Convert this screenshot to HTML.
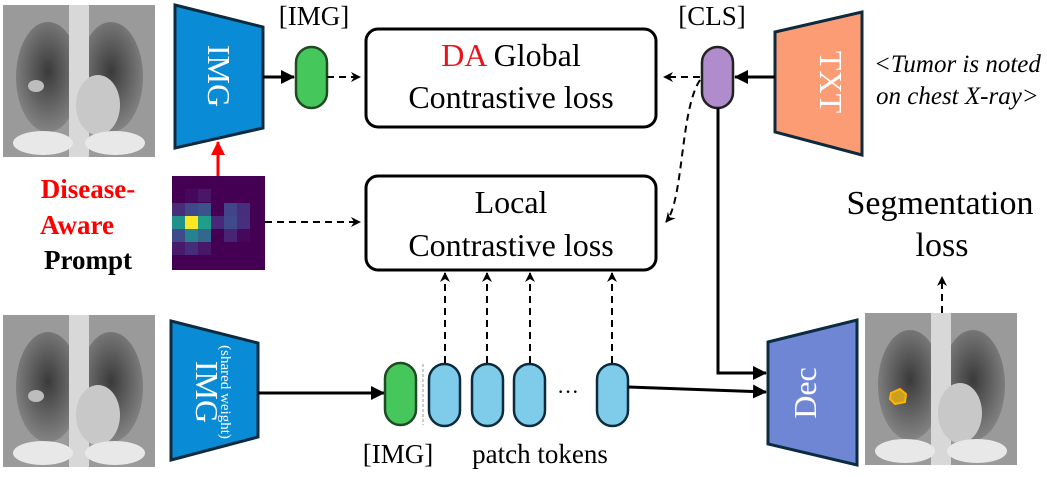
<!DOCTYPE html>
<html><head><meta charset="utf-8"><style>
html,body{margin:0;padding:0;background:#fff;}
svg text{font-family:"Liberation Serif","DejaVu Serif","Noto Serif CJK SC",serif;}
</style></head><body>
<svg width="1047" height="472" viewBox="0 0 1047 472" xmlns="http://www.w3.org/2000/svg">
<defs>
<marker id="ab" markerWidth="14" markerHeight="14" refX="13" refY="7" orient="auto" markerUnits="userSpaceOnUse"><path d="M0,0 L14,7 L0,14 Z" fill="#000"/></marker>
<marker id="ao" markerWidth="10" markerHeight="10" refX="9" refY="5" orient="auto" markerUnits="userSpaceOnUse"><path d="M0,0 L10,5 L0,10 L3,5 Z" fill="#000"/></marker>
<marker id="ar" markerWidth="14" markerHeight="14" refX="13" refY="7" orient="auto" markerUnits="userSpaceOnUse"><path d="M0,0 L14,7 L0,14 Z" fill="#f00"/></marker>
<radialGradient id="lung" cx="0.5" cy="0.45" r="0.6"><stop offset="0" stop-color="#3a3a3a"/><stop offset="1" stop-color="#8a8a8a"/></radialGradient>
<g id="xray">
<rect width="152" height="152" fill="#9a9a9a"/>
<ellipse cx="45" cy="72" rx="32" ry="55" fill="url(#lung)"/>
<ellipse cx="108" cy="72" rx="32" ry="55" fill="url(#lung)"/>
<rect x="66" y="0" width="20" height="152" fill="#d8d8d8"/>
<ellipse cx="95" cy="100" rx="22" ry="30" fill="#c8c8c8"/>
<ellipse cx="40" cy="138" rx="30" ry="12" fill="#e8e8e8"/>
<ellipse cx="112" cy="138" rx="30" ry="12" fill="#e8e8e8"/>
</g>
</defs>

<use href="#xray" x="3" y="5"/>
<ellipse cx="36" cy="86" rx="8" ry="6" fill="#bdbdbd"/>
<use href="#xray" x="3" y="315"/>
<ellipse cx="36" cy="396" rx="8" ry="6" fill="#bdbdbd"/>
<use href="#xray" x="865" y="313"/>
<path d="M891,393 L900,389 L906,394 L905,402 L895,404 L890,399 Z" fill="#c9a020" stroke="#ffb400" stroke-width="2"/>

<polygon points="175,5 263,27 263,128 175,148" fill="#0a8bd6" stroke="#0d2b3e" stroke-width="3"/>
<text transform="translate(208,76) rotate(90)" text-anchor="middle" font-size="32" fill="#fff">IMG</text>
<line x1="263" y1="77" x2="294" y2="77" stroke="#000" stroke-width="3" marker-end="url(#ab)"/>
<rect x="296" y="47" width="31" height="61" rx="15.5" fill="#45c75c" stroke="#1f4a22" stroke-width="2.5"/>
<text x="314" y="25" text-anchor="middle" font-size="27">[IMG]</text>
<line x1="327" y1="77" x2="360" y2="77" stroke="#000" stroke-width="2" stroke-dasharray="7,5" marker-end="url(#ao)"/>

<rect x="366" y="29" width="290" height="98" rx="12" fill="#fff" stroke="#000" stroke-width="3"/>
<text x="511" y="66" text-anchor="middle" font-size="32"><tspan fill="#e8141b">DA</tspan> Global</text>
<text x="511" y="108" text-anchor="middle" font-size="32">Contrastive loss</text>

<text x="712" y="25" text-anchor="middle" font-size="27">[CLS]</text>
<rect x="702" y="47" width="31" height="61" rx="15.5" fill="#b18ccc" stroke="#222" stroke-width="2.5"/>
<polygon points="775,32 862,12 862,155 775,132" fill="#fc9c74" stroke="#0d2b3e" stroke-width="3"/>
<text transform="translate(820,82) rotate(90)" text-anchor="middle" font-size="32" fill="#fff">TXT</text>
<line x1="775" y1="77" x2="735" y2="77" stroke="#000" stroke-width="3" marker-end="url(#ab)"/>
<line x1="700" y1="77" x2="664" y2="77" stroke="#000" stroke-width="2" stroke-dasharray="7,5" marker-end="url(#ao)"/>
<text x="874" y="72" font-size="25" font-style="italic">&lt;Tumor is noted</text>
<text x="876" y="104" font-size="25" font-style="italic">on chest X-ray&gt;</text>
<path d="M700,80 C680,110 684,200 666,222" fill="none" stroke="#000" stroke-width="2" stroke-dasharray="7,5" marker-end="url(#ao)"/>
<polyline points="718,108 718,373 766,373" fill="none" stroke="#000" stroke-width="3" marker-end="url(#ab)"/>

<text x="88" y="198" text-anchor="middle" font-size="27" font-weight="bold" fill="#f00">Disease-</text>
<text x="77" y="234" text-anchor="middle" font-size="27" font-weight="bold" fill="#f00">Aware</text>
<text x="88" y="269" text-anchor="middle" font-size="27" font-weight="bold">Prompt</text>
<g transform="translate(172,176)">
<rect width="93" height="94" fill="#440154"/>
<rect x="13" y="13" width="13" height="13" fill="#46085c"/>
<rect x="26" y="13" width="13" height="13" fill="#481769"/>
<rect x="0" y="27" width="13" height="13" fill="#472c7a"/>
<rect x="13" y="27" width="13" height="13" fill="#3e4989"/>
<rect x="26" y="27" width="13" height="13" fill="#3b528b"/>
<rect x="52" y="27" width="13" height="13" fill="#414487"/>
<rect x="65" y="27" width="13" height="13" fill="#472d7b"/>
<rect x="0" y="40" width="13" height="13" fill="#21918c"/>
<rect x="13" y="40" width="13" height="13" fill="#fde725"/>
<rect x="26" y="40" width="13" height="13" fill="#1f9e89"/>
<rect x="39" y="40" width="13" height="13" fill="#482878"/>
<rect x="52" y="40" width="13" height="13" fill="#3e4a89"/>
<rect x="65" y="40" width="13" height="13" fill="#472f7d"/>
<rect x="0" y="53" width="13" height="13" fill="#3e4a89"/>
<rect x="13" y="53" width="13" height="13" fill="#26828e"/>
<rect x="26" y="53" width="13" height="13" fill="#31688e"/>
<rect x="52" y="53" width="13" height="13" fill="#482475"/>
<rect x="65" y="53" width="13" height="13" fill="#46085c"/>
<rect x="0" y="66" width="13" height="13" fill="#481a6c"/>
<rect x="13" y="66" width="13" height="13" fill="#472c7a"/>
<rect x="26" y="66" width="13" height="13" fill="#481769"/>
</g>
<line x1="218" y1="176" x2="218" y2="142" stroke="#f00" stroke-width="3" marker-end="url(#ar)"/>
<line x1="265" y1="222" x2="360" y2="222" stroke="#000" stroke-width="2" stroke-dasharray="7,5" marker-end="url(#ao)"/>

<rect x="366" y="176" width="290" height="94" rx="12" fill="#fff" stroke="#000" stroke-width="3"/>
<text x="511" y="213" text-anchor="middle" font-size="32">Local</text>
<text x="511" y="256" text-anchor="middle" font-size="32">Contrastive loss</text>

<polygon points="171,321 258,343 258,437 171,460" fill="#0a8bd6" stroke="#0d2b3e" stroke-width="3"/>
<text transform="translate(196,392) rotate(90)" text-anchor="middle" font-size="32" fill="#fff">IMG</text>
<text transform="translate(221,392) rotate(90)" text-anchor="middle" font-size="15" fill="#fff">(shared weight)</text>
<line x1="258" y1="393" x2="384" y2="393" stroke="#000" stroke-width="3" marker-end="url(#ab)"/>
<rect x="385" y="363" width="31" height="62" rx="15.5" fill="#45c75c" stroke="#1f4a22" stroke-width="2.5"/>
<line x1="423" y1="364" x2="423" y2="425" stroke="#999" stroke-width="1" stroke-dasharray="3,2"/>
<g fill="#7fcbea" stroke="#0d2b3e" stroke-width="2.5">
<rect x="429" y="364" width="31" height="62" rx="15.5"/>
<rect x="472" y="364" width="31" height="62" rx="15.5"/>
<rect x="514" y="364" width="31" height="62" rx="15.5"/>
<rect x="597" y="364" width="31" height="62" rx="15.5"/>
</g>
<text x="568" y="399" text-anchor="middle" font-size="22">···</text>
<g stroke="#000" stroke-width="2" stroke-dasharray="7,5">
<line x1="445" y1="363" x2="445" y2="273" marker-end="url(#ao)"/>
<line x1="487" y1="363" x2="487" y2="273" marker-end="url(#ao)"/>
<line x1="530" y1="363" x2="530" y2="273" marker-end="url(#ao)"/>
<line x1="612" y1="363" x2="612" y2="273" marker-end="url(#ao)"/>
</g>
<line x1="628" y1="387" x2="766" y2="392" stroke="#000" stroke-width="3" marker-end="url(#ab)"/>
<text x="398" y="463" text-anchor="middle" font-size="27">[IMG]</text>
<text x="540" y="463" text-anchor="middle" font-size="27">patch tokens</text>

<polygon points="768,342 857,320 857,465 768,444" fill="#6f86d4" stroke="#0d2b3e" stroke-width="3"/>
<text transform="translate(816,393) rotate(-90)" text-anchor="middle" font-size="32" fill="#fff">Dec</text>

<text x="940" y="214" text-anchor="middle" font-size="34">Segmentation</text>
<text x="942" y="256" text-anchor="middle" font-size="34">loss</text>
<line x1="942" y1="313" x2="942" y2="277" stroke="#000" stroke-width="2" stroke-dasharray="7,5" marker-end="url(#ao)"/>
</svg>
</body></html>
